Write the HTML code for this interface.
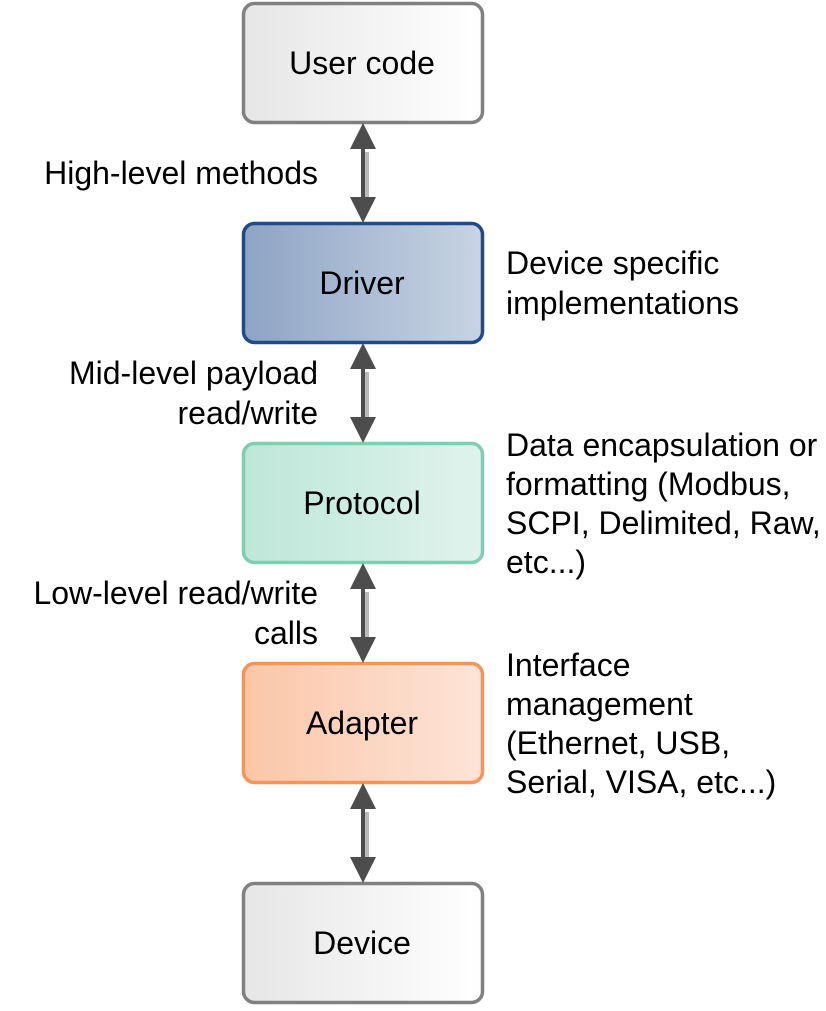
<!DOCTYPE html>
<html><head><style>
html,body{margin:0;padding:0;background:#fff;}
svg text{font-family:"Liberation Sans",Arial,sans-serif;font-size:32px;fill:#000;}
</style></head><body>
<svg width="826" height="1006" viewBox="0 0 826 1006" xmlns="http://www.w3.org/2000/svg">
<defs>
<linearGradient id="g1" x1="0" x2="1" y1="0" y2="0"><stop offset="0" stop-color="#e6e6e6"/><stop offset="1" stop-color="#ffffff"/></linearGradient>
<linearGradient id="g2" x1="0" x2="1" y1="0" y2="0"><stop offset="0" stop-color="#8ea4c4"/><stop offset="1" stop-color="#c8d4e4"/></linearGradient>
<linearGradient id="g3" x1="0" x2="1" y1="0" y2="0"><stop offset="0" stop-color="#bde7d8"/><stop offset="1" stop-color="#e0f3ed"/></linearGradient>
<linearGradient id="g4" x1="0" x2="1" y1="0" y2="0"><stop offset="0" stop-color="#fbc6a8"/><stop offset="1" stop-color="#fde4d8"/></linearGradient>
<g id="arr">
<rect x="365" y="152" width="4" height="46" fill="#bbbbbb"/>
<rect x="361" y="146" width="4" height="54" fill="#4d4d4d"/>
<polygon points="363,123 376,149 350,149" fill="#4d4d4d"/>
<polygon points="363,223 376,197 350,197" fill="#4d4d4d"/>
</g>
</defs>
<rect x="243.5" y="3.5" width="239" height="119" rx="11" fill="url(#g1)" stroke="#808080" stroke-width="3.5"/>
<rect x="243.5" y="223.5" width="239" height="119" rx="11" fill="url(#g2)" stroke="#1f4c88" stroke-width="3.5"/>
<rect x="243.5" y="443.5" width="239" height="119" rx="11" fill="url(#g3)" stroke="#7dcfb2" stroke-width="3.5"/>
<rect x="243.5" y="663.5" width="239" height="119" rx="11" fill="url(#g4)" stroke="#f59557" stroke-width="3.5"/>
<rect x="243.5" y="883.5" width="239" height="119" rx="11" fill="url(#g1)" stroke="#808080" stroke-width="3.5"/>
<use href="#arr"/>
<use href="#arr" y="220"/>
<use href="#arr" y="440"/>
<use href="#arr" y="660"/>
<g text-anchor="middle">
<text x="362" y="74">User code</text>
<text x="362" y="294">Driver</text>
<text x="362" y="514">Protocol</text>
<text x="362" y="734">Adapter</text>
<text x="362" y="954">Device</text>
</g>
<g text-anchor="end">
<text x="318" y="184">High-level methods</text>
<text x="318" y="384">Mid-level payload</text>
<text x="318" y="424">read/write</text>
<text x="318" y="604">Low-level read/write</text>
<text x="318" y="644">calls</text>
</g>
<g>
<text x="506" y="274">Device specific</text>
<text x="506" y="314">implementations</text>
<text x="506" y="456">Data encapsulation or</text>
<text x="506" y="495">formatting (Modbus,</text>
<text x="506" y="534">SCPI, Delimited, Raw,</text>
<text x="506" y="573">etc...)</text>
<text x="506" y="676">Interface</text>
<text x="506" y="715">management</text>
<text x="506" y="754">(Ethernet, USB,</text>
<text x="506" y="793">Serial, VISA, etc...)</text>
</g>
</svg>
</body></html>
